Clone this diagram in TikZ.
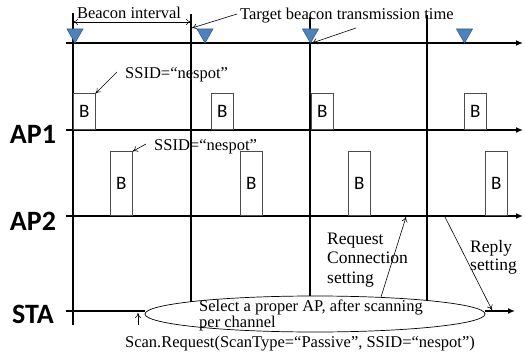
\documentclass[tikz,border=0pt]{standalone}
\usepackage{fontspec}
\setmainfont{Liberation Serif}
\newfontfamily\labelfont{Carlito}
\usetikzlibrary{arrows.meta,shapes.geometric}
\definecolor{beaconblue}{HTML}{4F81BD}
\definecolor{beaconedge}{HTML}{385D8A}
\begin{document}
\begin{tikzpicture}[x=1pt,y=-1pt,
  axis/.style={line width=1.7pt,-{Latex[length=7pt,width=6pt]}},
  tbtt/.style={line width=1.7pt},
  beacon/.style={draw=black!70,line width=0.7pt,minimum width=22pt,inner sep=0pt,anchor=south west,
    font=\labelfont\fontsize{19}{19}\selectfont},
  note/.style={line width=0.6pt,-{To[length=5pt,width=6pt]}},
  txt/.style={font=\fontsize{16.5}{19}\selectfont,inner sep=0pt},
  bigtxt/.style={font=\fontsize{17.5}{19.5}\selectfont,inner sep=0pt,align=left,anchor=west},
  row/.style={font=\labelfont\bfseries\fontsize{28}{28}\selectfont,inner sep=0pt},
  tri/.style={fill=beaconblue,draw=beaconedge,line width=0.6pt}
]
\useasboundingbox (0,0) rectangle (525,353);

% time axes
\coordinate (t0) at (66,43);   \coordinate (t1) at (523,43);
\coordinate (a0) at (66,130);  \coordinate (a1) at (523,130);
\coordinate (b0) at (66,216);  \coordinate (b1) at (523,216);
\coordinate (s0) at (66,311);

% scanning ellipse on the STA axis
\node[ellipse,draw,line width=0.7pt,minimum width=340pt,minimum height=36pt,inner sep=0pt] (scan) at (315,314) {};
\coordinate (s1) at (515,311);

\draw[axis] (t0) -- (t1);
\draw[axis] (a0) -- (a1);
\draw[axis] (b0) -- (b1);
\draw[line width=1.7pt] (s0) -- (scan.west |- s0);
\draw[axis] (scan.east |- s0) -- (s1);

% row labels
\node[row] (ap1) at (33,134) {AP1};
\node[row] (ap2) at (33,221) {AP2};
\node[row] (sta) at (33,314) {STA};

% target beacon transmission times
\coordinate (v1t) at (73,13);   \coordinate (v1b) at (73,325);
\coordinate (v2t) at (191,14);  \coordinate (v2b) at (191,301.5);
\coordinate (v3t) at (310,17);  \coordinate (v3b) at (310,296);
\coordinate (v4t) at (427,15);  \coordinate (v4b) at (427,300.5);
\draw[tbtt] (v1t) -- (v1b);
\draw[tbtt] (v2t) -- (v2b);
\draw[tbtt] (v3t) -- (v3b);
\draw[tbtt] (v4t) -- (v4b);

% beacon markers
\foreach \cx in {75,205,310.5,464.5}{
  \draw[tri] (\cx-8,29) -- (\cx+8,29) -- (\cx,43) -- cycle;
}

% beacon interval
\coordinate (bi0) at (73,22);
\coordinate (bi1) at (191,22);
\draw[line width=0.6pt,{To[length=5pt,width=6pt]}-{To[length=5pt,width=6pt]}] (bi0) -- (bi1);
\node[txt,anchor=base] (bitxt) at (129,19) {Beacon interval};

% target beacon transmission time
\node[txt,anchor=base west] (tbtxt) at (240,20) {Target beacon transmission time};
\coordinate (tb1) at (237,14);  \coordinate (tb1e) at (192,28);
\coordinate (tb2) at (356,28);  \coordinate (tb2e) at (312,43);
\draw[note] (tb1) -- (tb1e);
\draw[note] (tb2) -- (tb2e);

% AP1 beacons
\node[beacon,minimum height=36pt] (p1) at (73,130) {B};
\node[beacon,minimum height=36pt] (p2) at (211,130) {B};
\node[beacon,minimum height=36pt] (p3) at (311,130) {B};
\node[beacon,minimum height=36pt] (p4) at (464,130) {B};
% AP2 beacons
\node[beacon,minimum height=64pt] (q1) at (110,216) {B};
\node[beacon,minimum height=64pt] (q2) at (240,216) {B};
\node[beacon,minimum height=64pt] (q3) at (348,216) {B};
\node[beacon,minimum height=64pt] (q4) at (485,216) {B};

% SSID notes
\node[txt,anchor=base west] (ssid1) at (125,79) {SSID=“nespot”};
\node[txt,anchor=base west] (ssid2) at (154,150) {SSID=“nespot”};
\coordinate (n1) at (117,72);
\coordinate (n2) at (146,144);
\draw[note] (n1) -- (p1.north east);
\draw[note] (n2) -- (q1.north east);

% connection setup
\node[bigtxt] (req) at (327,260) {Request\\Connection\\setting};
\node[bigtxt,font=\fontsize{17.5}{18}\selectfont] (rep) at (470,257) {Reply\\setting};
\coordinate (rq0) at (381,297);
\coordinate (rq1) at (406,217);
\coordinate (rp0) at (445,217);
\coordinate (rp1) at (492,310);
\draw[note] (rq0) -- (rq1);
\draw[note] (rp0) -- (rp1);

% scanning
\node[txt,align=left,anchor=west,font=\fontsize{16.5}{14}\selectfont] (sel) at (199,315) {Select a proper AP, after scanning\\per channel};
\node[txt,anchor=base] (sreq) at (300,347) {Scan.Request(ScanType=“Passive”, SSID=“nespot”)};
\coordinate (sr0) at (138,325);
\coordinate (sr1) at (138,313);
\draw[note] (sr0) -- (sr1);
\end{tikzpicture}
\end{document}
